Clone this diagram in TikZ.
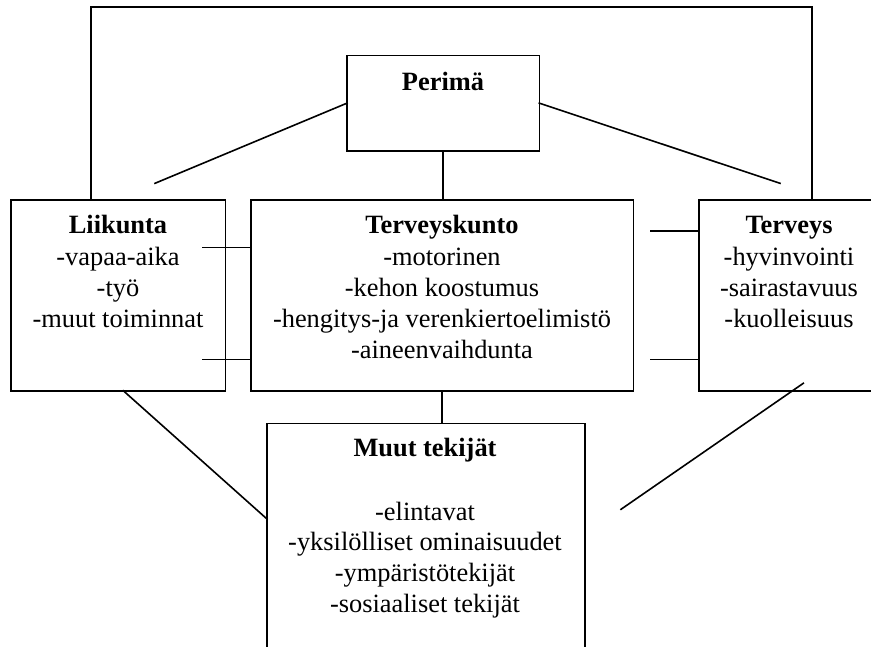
\documentclass[tikz,border=0pt]{standalone}
\usepackage{fontspec}
\setmainfont{Liberation Serif}
\begin{document}
\begin{tikzpicture}[x=1pt,y=-1pt,
  line width=1.6pt, line cap=rect,
  box/.style={draw, rectangle, inner sep=0pt, outer sep=0pt},
  txt/.style={anchor=base, inner sep=0pt, font=\fontsize{26.4}{31.5}\selectfont},
  head/.style={txt, font=\fontsize{26.4}{31.5}\selectfont\bfseries}]
\useasboundingbox (0,0) rectangle (871,646);
\clip (0,0) rectangle (871,646);

% boxes
\node[box, minimum width=192.3pt, minimum height=95.7pt]  (perima) at (443.15,103.15) {};
\node[box, minimum width=214.3pt, minimum height=190.7pt] (liik)   at (118.15,295.35) {};
\node[box, minimum width=382.6pt, minimum height=190.7pt] (tk)     at (442,295.35) {};
\node[box, minimum width=180pt,   minimum height=190.7pt] (terv)   at (789,295.35) {};
\node[box, minimum width=318pt,   minimum height=246.7pt] (muut)   at (426,546.65) {};

% texts
\node[head] (perimaT) at (443,90.7) {Perimä};

\node[head] (liikT) at (118,233.3) {Liikunta};
\node[txt]  (liik1) at (118,265) {-vapaa-aika};
\node[txt]  (liik2) at (118,296) {-työ};
\node[txt]  (liik3) at (118,327.5) {-muut toiminnat};

\node[head] (tkT) at (442,233.3) {Terveyskunto};
\node[txt]  (tk1) at (442,265) {-motorinen};
\node[txt]  (tk2) at (442,296) {-kehon koostumus};
\node[txt]  (tk3) at (442,327) {-hengitys-ja verenkiertoelimistö};
\node[txt]  (tk4) at (442,358.3) {-aineenvaihdunta};

\node[head] (tervT) at (789,233.3) {Terveys};
\node[txt]  (terv1) at (789,265) {-hyvinvointi};
\node[txt]  (terv2) at (789,296) {-sairastavuus};
\node[txt]  (terv3) at (789,327.5) {-kuolleisuus};

\node[head] (muutT) at (425,456.7) {Muut tekijät};
\node[txt]  (muut1) at (425,520) {-elintavat};
\node[txt]  (muut2) at (425,550.5) {-yksilölliset ominaisuudet};
\node[txt]  (muut3) at (425,581.5) {-ympäristötekijät};
\node[txt]  (muut4) at (425,612.5) {-sosiaaliset tekijät};

% outer loop from Liikunta over the top to Terveys
\coordinate (loopL) at (90.7,200);
\coordinate (loopR) at (811.7,200);
\coordinate (topL)  at (90.7,7);
\draw (loopL) -- (topL) -| (loopR);

% Perimä links
\coordinate (pL) at (155,183.3);
\coordinate (pR) at (780,183.3);
\draw (perima.west) -- (pL);
\draw (perima.east) -- (pR);
\draw (perima.south) -- (perima.south |- tk.north);

% stubs between Liikunta and Terveyskunto
\coordinate (sa) at (202.7,247.3);
\coordinate (sb) at (202.7,359.3);
\draw (sa) -- (sa -| tk.west);
\draw (sb) -- (sb -| tk.west);

% stubs between Terveyskunto and Terveys
\coordinate (sc) at (650.7,230.7);
\coordinate (sd) at (650.7,359.3);
\draw (sc) -- (sc -| terv.west);
\draw (sd) -- (sd -| terv.west);

% Terveyskunto to Muut tekijät
\draw (tk.south) -- (tk.south |- muut.north);

% diagonal links
\coordinate (lb) at (123.3,390.7);
\coordinate (ml) at (267,519);
\draw (lb) -- (ml);
\coordinate (ta) at (803.3,383.3);
\coordinate (tb) at (621,509.3);
\draw (ta) -- (tb);
\end{tikzpicture}
\end{document}
